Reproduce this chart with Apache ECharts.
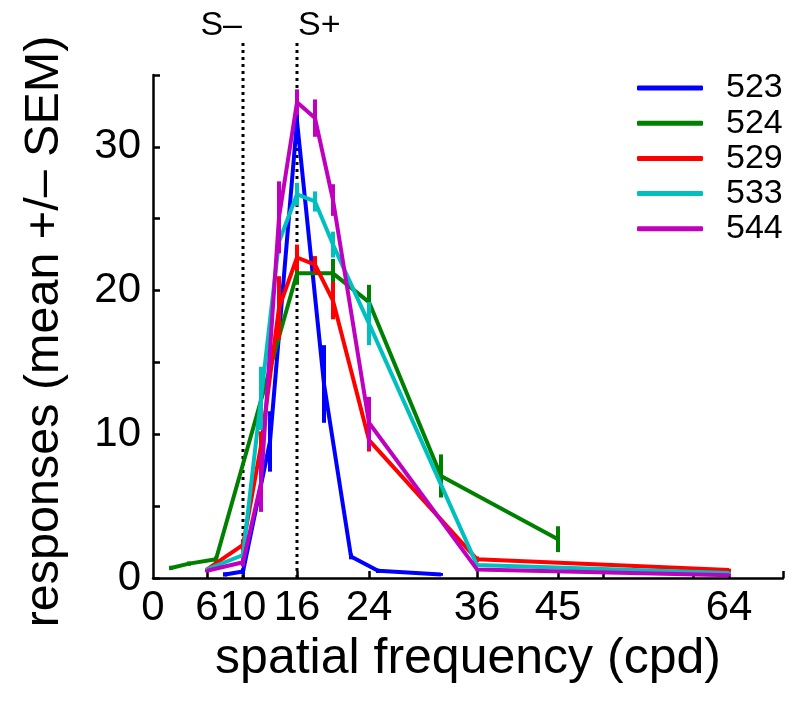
<!DOCTYPE html>
<html>
<head>
<meta charset="utf-8">
<script src="https://cdn.jsdelivr.net/npm/echarts@6/dist/echarts.min.js"></script>
<style>
  html, body { margin: 0; padding: 0; background: #fff; }
  #chart { width: 795px; height: 720px; }
</style>
</head>
<body>
<div id="chart"></div>
<script>
// animals and their line colours
const animals = ['523', '524', '529', '533', '544']
const colors = ['#0000ff', '#008000', '#ff0000', '#00bfbf', '#bf00bf']

// spatial frequency (cpd), mean response, SEM for each animal
const freq523 = [8, 10, 13, 16, 19, 22, 25, 32]
const resp523 = [0.25, 0.45, 9.5, 31.8, 13.5, 1.5, 0.5, 0.25]
const sem523 = [0.15, 0.2, 2.1, 0.8, 2.7, 0.2, 0.15, 0.1]

const freq524 = [2, 4, 7, 16, 20, 24, 32, 45]
const resp524 = [0.7, 1.0, 1.3, 21.2, 21.2, 19.2, 7.1, 2.7]
const sem524 = [0.15, 0.15, 0.2, 0.8, 1.0, 1.2, 1.5, 0.9]

const freq529 = [6, 10, 12, 14, 16, 18, 20, 24, 36, 64]
const resp529 = [0.6, 2.3, 9.2, 18.8, 22.3, 21.8, 19.3, 9.6, 1.3, 0.55]
const sem529 = [0.1, 0.4, 1.0, 2.2, 0.9, 0.6, 1.3, 0.8, 0.2, 0.1]

const freq533 = [6, 10, 12, 14, 16, 18, 20, 24, 36, 64]
const resp533 = [0.6, 1.6, 12.5, 23.4, 26.7, 26.2, 23.2, 17.7, 0.9, 0.35]
const sem533 = [0.1, 0.3, 2.2, 0.8, 0.8, 0.7, 0.9, 1.5, 0.1, 0.1]

const freq544 = [6, 10, 12, 14, 16, 18, 20, 24, 36, 64]
const resp544 = [0.5, 1.1, 6.6, 25.1, 33.1, 32.0, 26.3, 10.8, 0.6, 0.2]
const sem544 = [0.1, 0.3, 2.0, 2.5, 0.9, 1.3, 1.1, 1.8, 0.1, 0.1]

// stimulus frequencies (dotted lines)
const sMinus = 10
const sPlus = 16
const stimTop = 37.45

// axis ticks and labels
const xLabelValues = [0, 6, 10, 16, 24, 36, 45, 64]
const xTickValues = [6, 10, 16, 24, 36, 45, 50, 60, 64, 70]
const yLabelValues = [0, 10, 20, 30]
const yTickValues = [0, 5, 10, 15, 20, 25, 30, 35]

const freqs = [freq523, freq524, freq529, freq533, freq544]
const resps = [resp523, resp524, resp529, resp533, resp544]
const sems = [sem523, sem524, sem529, sem533, sem544]

const font = 'Liberation Sans, Arial, sans-serif'
const lineWidth = 4

const series = []
animals.forEach(function (name, i) {
  series.push({
    name: name,
    type: 'line',
    data: freqs[i].map(function (f, j) { return [f, resps[i][j]] }),
    symbol: 'none',
    lineStyle: { color: colors[i], width: lineWidth },
    itemStyle: { color: colors[i] },
    silent: true,
    z: 3 + i
  })
  series.push({
    name: name + ' sem',
    type: 'custom',
    data: freqs[i].map(function (f, j) { return [f, resps[i][j] - sems[i][j], resps[i][j] + sems[i][j]] }),
    encode: { x: 0, y: [1, 2] },
    renderItem: function (params, api) {
      const lo = api.coord([api.value(0), api.value(1)])
      const hi = api.coord([api.value(0), api.value(2)])
      return {
        type: 'line',
        shape: { x1: lo[0], y1: lo[1], x2: hi[0], y2: hi[1] },
        style: { stroke: colors[i], lineWidth: lineWidth }
      }
    },
    silent: true,
    z: 3 + i
  })
})

// dotted stimulus lines, drawn above the plot top
;[sMinus, sPlus].forEach(function (x) {
  series.push({
    type: 'line',
    data: [[x, 0], [x, stimTop]],
    symbol: 'none',
    clip: false,
    silent: true,
    lineStyle: { color: '#000', width: 3, type: [3, 4] },
    z: 2
  })
})
const stimLabel = { show: true, position: 'top', distance: -3, color: '#000', fontSize: 34, fontFamily: font }
series.push({
  type: 'scatter',
  symbolSize: 0,
  clip: false,
  silent: true,
  itemStyle: { opacity: 1 },
  data: [
    { value: [sMinus, stimTop], label: Object.assign({}, stimLabel, { formatter: 'S–', align: 'right', offset: [-1, 0] }) },
    { value: [sPlus, stimTop], label: Object.assign({}, stimLabel, { formatter: 'S+', align: 'left', offset: [1, 0] }) }
  ],
  label: stimLabel
})

const chart = echarts.init(document.getElementById('chart'))
chart.setOption({
  animation: false,
  backgroundColor: '#fff',
  grid: { left: 153, right: 12, top: 75, bottom: 142 },
  legend: {
    data: animals.map(function (n) { return { name: n, icon: 'roundRect' } }),
    orient: 'vertical',
    left: 632,
    top: 66,
    itemWidth: 66,
    itemHeight: 5,
    itemGap: 1.2,
    selectedMode: false,
    textStyle: { fontSize: 34, fontFamily: font, color: '#000', padding: [0, 0, 0, 18] }
  },
  xAxis: {
    type: 'value',
    min: 0,
    max: 70,
    name: 'spatial frequency (cpd)',
    nameLocation: 'middle',
    nameGap: 49,
    nameTextStyle: { fontSize: 50, fontFamily: font, color: '#000' },
    axisLine: { show: true, lineStyle: { color: '#000', width: 2.5 } },
    axisTick: { show: true, inside: true, length: 7, lineStyle: { color: '#000', width: 2.5 }, customValues: xTickValues },
    axisLabel: { fontSize: 42, fontFamily: font, color: '#000', margin: 9, customValues: xLabelValues },
    splitLine: { show: false }
  },
  yAxis: {
    type: 'value',
    min: 0,
    max: 35,
    name: 'responses (mean +/– SEM)',
    nameLocation: 'middle',
    nameGap: 84,
    nameTextStyle: { fontSize: 48.5, fontFamily: font, color: '#000', padding: [0, 10, 0, 0] },
    axisLine: { show: true, lineStyle: { color: '#000', width: 2.5 } },
    axisTick: { show: true, inside: true, length: 7, lineStyle: { color: '#000', width: 2.5 }, customValues: yTickValues },
    axisLabel: { fontSize: 42, fontFamily: font, color: '#000', margin: 12, customValues: yLabelValues },
    splitLine: { show: false }
  },
  series: series
})
</script>
</body>
</html>
